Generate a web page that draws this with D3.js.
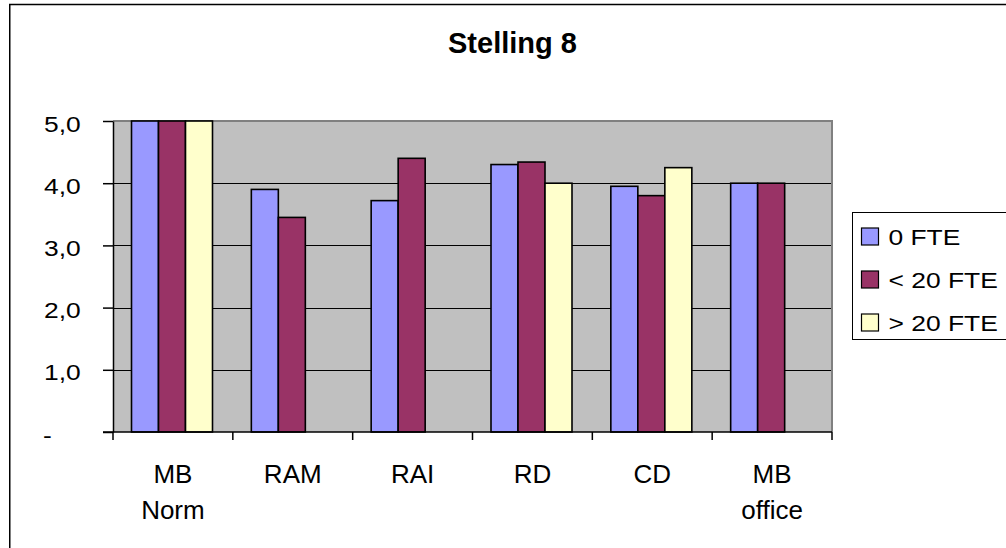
<!DOCTYPE html>
<html>
<head>
<meta charset="utf-8">
<script src="https://cdn.jsdelivr.net/npm/d3@7"></script>
<style>
  html, body { margin: 0; padding: 0; background: #fff; }
  svg { display: block; font-family: "Liberation Sans", Arial, sans-serif; }
</style>
</head>
<body>
<svg id="chart" width="1006" height="548"></svg>
<script>
// Chart data
const title = "Stelling 8";
const categories = ["MB Norm", "RAM", "RAI", "RD", "CD", "MB office"];
const categoryLines = [["MB", "Norm"], ["RAM"], ["RAI"], ["RD"], ["CD"], ["MB", "office"]];
const seriesNames = ["0 FTE", "< 20 FTE", "> 20 FTE"];
const seriesColors = ["#9999FF", "#993366", "#FFFFCC"];
const fte0 = [5.0, 3.9, 3.72, 4.3, 3.95, 4.0];
const fteUnder20 = [5.0, 3.45, 4.4, 4.34, 3.8, 4.0];
const fteOver20 = [5.0, null, null, 4.0, 4.25, null];
const yTicks = [0, 1, 2, 3, 4, 5];

const seriesValues = [fte0, fteUnder20, fteOver20];

const svg = d3.select("#chart");

// Outer chart frame (runs past the right and bottom edges)
svg.append("rect")
  .attr("x", 9.75).attr("y", 4.5)
  .attr("width", 1100).attr("height", 600)
  .attr("fill", "#fff").attr("stroke", "#000").attr("stroke-width", 1.5);

// Plot geometry
const plotLeft = 113, plotRight = 832, plotTop = 121, plotBottom = 432;

const x = d3.scaleBand().domain(categories).range([plotLeft, plotRight]).padding(0);
const xs = d3.scaleBand().domain(seriesNames).range([18.5, 99.5]).padding(0);
const y = d3.scaleLinear().domain([0, 5]).range([plotBottom, plotTop]);

// Plot background
svg.append("rect")
  .attr("x", plotLeft).attr("y", plotTop)
  .attr("width", plotRight - plotLeft).attr("height", plotBottom - plotTop)
  .attr("fill", "#C0C0C0");

// Horizontal gridlines
svg.append("g").selectAll("line")
  .data(yTicks.filter(d => d > 0 && d < 5))
  .join("line")
  .attr("x1", plotLeft).attr("x2", plotRight)
  .attr("y1", d => Math.round(y(d)) + 0.5).attr("y2", d => Math.round(y(d)) + 0.5)
  .attr("stroke", "#000").attr("stroke-width", 1.2);

// Top and right plot border
svg.append("path")
  .attr("d", `M${plotLeft},${plotTop} H${plotRight} V${plotBottom}`)
  .attr("fill", "none").attr("stroke", "#808080").attr("stroke-width", 2);

// Bars
const barData = [];
categories.forEach((c, i) => {
  seriesNames.forEach((s, j) => {
    const v = seriesValues[j][i];
    if (v != null) barData.push({ c, s, v, j });
  });
});

svg.append("g").selectAll("rect")
  .data(barData)
  .join("rect")
  .attr("x", d => x(d.c) + xs(d.s))
  .attr("y", d => y(d.v))
  .attr("width", xs.bandwidth())
  .attr("height", d => y(0) - y(d.v))
  .attr("fill", d => seriesColors[d.j])
  .attr("stroke", "#000").attr("stroke-width", 1.6);

// Y axis
const yAxis = d3.axisLeft(y)
  .tickValues(yTicks)
  .tickSize(10)
  .tickSizeOuter(0)
  .tickFormat(d => d === 0 ? "-" : d3.format(".1f")(d).replace(".", ","));

const yg = svg.append("g")
  .attr("transform", `translate(${plotLeft},0)`)
  .call(yAxis);
yg.select(".domain").attr("stroke", "#000").attr("stroke-width", 1.5);
yg.selectAll(".tick line").attr("stroke", "#000").attr("stroke-width", 1.5);
yg.selectAll(".tick text")
  .attr("x", null).attr("dy", null)
  .attr("fill", "#000")
  .style("font-size", "22px")
  .attr("text-anchor", d => d === 0 ? "start" : "end")
  .attr("transform", d => d === 0 ? "translate(-70,10) scale(1.2,1)" : "translate(-32.3,10) scale(1.2,1)");

// X axis line and category boundary ticks
svg.append("line")
  .attr("x1", plotLeft - 10).attr("x2", plotRight)
  .attr("y1", plotBottom).attr("y2", plotBottom)
  .attr("stroke", "#000").attr("stroke-width", 1.5);

const boundaries = categories.map(c => x(c)).concat([x.range()[1]]);
svg.append("g").selectAll("line")
  .data(boundaries)
  .join("line")
  .attr("x1", d => d).attr("x2", d => d)
  .attr("y1", plotBottom).attr("y2", plotBottom + 8)
  .attr("stroke", "#000").attr("stroke-width", 1.5);

// Category labels
const labels = svg.append("g")
  .style("font-size", "26px")
  .attr("fill", "#000")
  .attr("text-anchor", "middle");
categories.forEach((c, i) => {
  const t = labels.append("text")
    .attr("x", x(c) + x.bandwidth() / 2)
    .attr("y", 482.5);
  categoryLines[i].forEach((line, k) => {
    t.append("tspan")
      .attr("x", x(c) + x.bandwidth() / 2)
      .attr("dy", k === 0 ? 0 : 36)
      .text(line);
  });
});

// Title
svg.append("text")
  .attr("x", 512.5).attr("y", 53)
  .attr("text-anchor", "middle")
  .style("font-size", "29px").style("font-weight", "bold")
  .text(title);

// Legend
const legend = svg.append("g");
legend.append("rect")
  .attr("x", 852.5).attr("y", 212.5)
  .attr("width", 200).attr("height", 127)
  .attr("fill", "#fff").attr("stroke", "#000").attr("stroke-width", 1);

const rowCenters = [236.5, 279.5, 322.5];
const items = legend.selectAll("g.item")
  .data(seriesNames)
  .join("g").attr("class", "item");
items.append("rect")
  .attr("x", 861.5)
  .attr("y", (d, i) => rowCenters[i] - 8.5)
  .attr("width", 17).attr("height", 17)
  .attr("fill", (d, i) => seriesColors[i])
  .attr("stroke", "#000").attr("stroke-width", 1.2);
items.append("text")
  .attr("transform", (d, i) => `translate(888.5,${rowCenters[i] + 8}) scale(1.2,1)`)
  .style("font-size", "22px")
  .attr("fill", "#000")
  .text(d => d);
</script>
</body>
</html>
